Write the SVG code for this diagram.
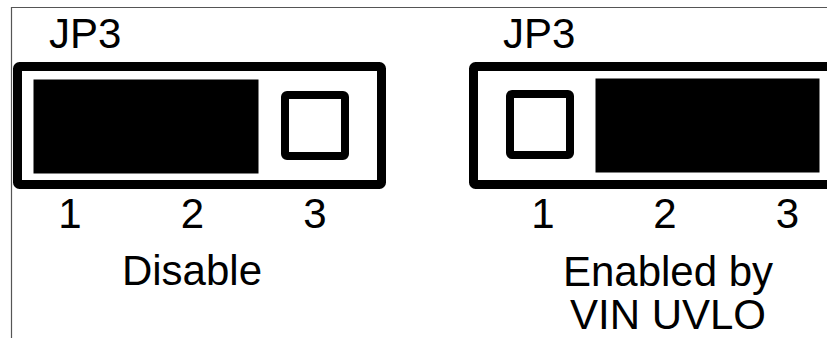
<svg xmlns="http://www.w3.org/2000/svg" width="827" height="338" viewBox="0 0 827 338">
  <style>
    .frame { fill: none; stroke: #555555; stroke-width: 1.2; }
    .body { fill: #ffffff; stroke: #000000; stroke-width: 9; stroke-linejoin: round; }
    .pin { fill: #ffffff; stroke: #000000; stroke-width: 8; stroke-linejoin: round; }
    .shunt { fill: #000000; stroke: #000000; stroke-width: 1; }
    text { font-family: "Liberation Sans", Arial, sans-serif; font-size: 42px; fill: #000000; }
    .mid { text-anchor: middle; }
  </style>
  <rect x="0" y="0" width="827" height="338" fill="#ffffff"/>

  <!-- panel border lines -->
  <path class="frame" d="M11.5,338 V7.5 H827"/>

  <!-- Jumper setting: Disable (shunt on pins 1-2) -->
  <g id="jp3-disable">
    <text x="49" y="48">JP3</text>
    <rect class="body" x="17.5" y="66.5" width="364" height="118" rx="2"/>
    <rect class="shunt" x="34" y="80" width="224" height="93"/>
    <rect class="pin" x="285" y="95" width="60" height="61" rx="2"/>
    <text class="mid" x="70" y="228">1</text>
    <text class="mid" x="192.5" y="228">2</text>
    <text class="mid" x="315" y="228">3</text>
    <text class="mid" x="192" y="285">Disable</text>
  </g>

  <!-- Jumper setting: Enabled by VIN UVLO (shunt on pins 2-3) -->
  <g id="jp3-enabled">
    <text x="503" y="48">JP3</text>
    <rect class="body" x="473.5" y="66.5" width="364" height="118" rx="2"/>
    <rect class="pin" x="510" y="94" width="60" height="61" rx="2"/>
    <rect class="shunt" x="596" y="79" width="223" height="93"/>
    <text class="mid" x="543" y="228">1</text>
    <text class="mid" x="665" y="228">2</text>
    <text class="mid" x="787.5" y="228">3</text>
    <text class="mid" x="668" y="286">Enabled by</text>
    <text class="mid" x="668" y="329">VIN UVLO</text>
  </g>
</svg>
